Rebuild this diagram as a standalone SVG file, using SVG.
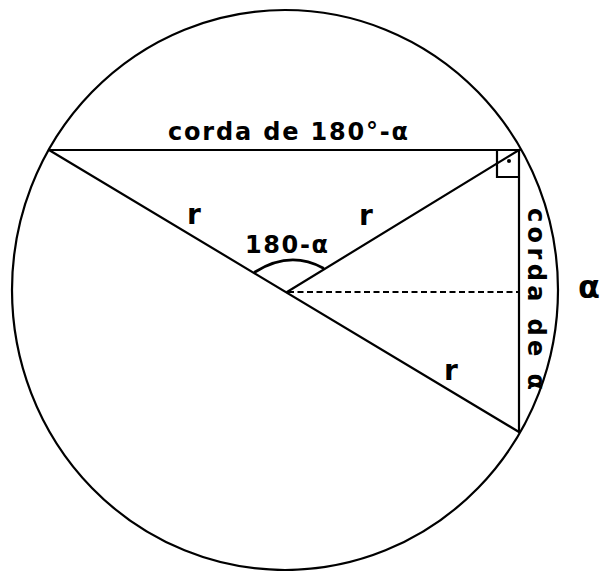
<svg xmlns="http://www.w3.org/2000/svg" width="602" height="571" viewBox="0 0 602 571">
<style>
.ln{fill:none;stroke:#000;stroke-width:2.2;stroke-linecap:round}
.dash{fill:none;stroke:#000;stroke-width:2;stroke-dasharray:6,3.5}
.t{font-family:"DejaVu Sans","Liberation Sans",sans-serif;font-weight:bold;fill:#000}
</style>
<rect width="602" height="571" fill="#fff"/>
<g id="circle">
<ellipse class="ln" cx="285" cy="290" rx="273" ry="280"/>
</g>
<g id="connectors">
<line class="ln" x1="49" y1="150" x2="520" y2="150"/>
<line class="ln" x1="49" y1="150" x2="519" y2="432"/>
<line class="ln" x1="287" y1="292" x2="519" y2="150"/>
<line class="ln" x1="519" y1="150" x2="519" y2="432"/>
<line class="dash" x1="288" y1="292" x2="518" y2="292"/>
<path class="ln" d="M497,150 V177 H519"/>
<circle cx="509" cy="161" r="2" fill="#000"/>
<path class="ln" style="stroke-width:2.8" d="M255,272 Q290,250 323,268"/>
</g>
<g id="labels">
<text class="t" x="168" y="140" font-size="24" textLength="240" lengthAdjust="spacing">corda de 180°-α</text>
<text class="t" x="245" y="253" font-size="24" textLength="83" lengthAdjust="spacing">180-α</text>
<text class="t" x="187" y="224" font-size="28">r</text>
<text class="t" x="359" y="225" font-size="28">r</text>
<text class="t" x="444" y="380" font-size="28">r</text>
<text class="t" font-size="24" transform="translate(528,208) rotate(90)" textLength="182" lengthAdjust="spacing">corda de α</text>
<text class="t" x="578" y="298" font-size="32">α</text>
</g>
</svg>
